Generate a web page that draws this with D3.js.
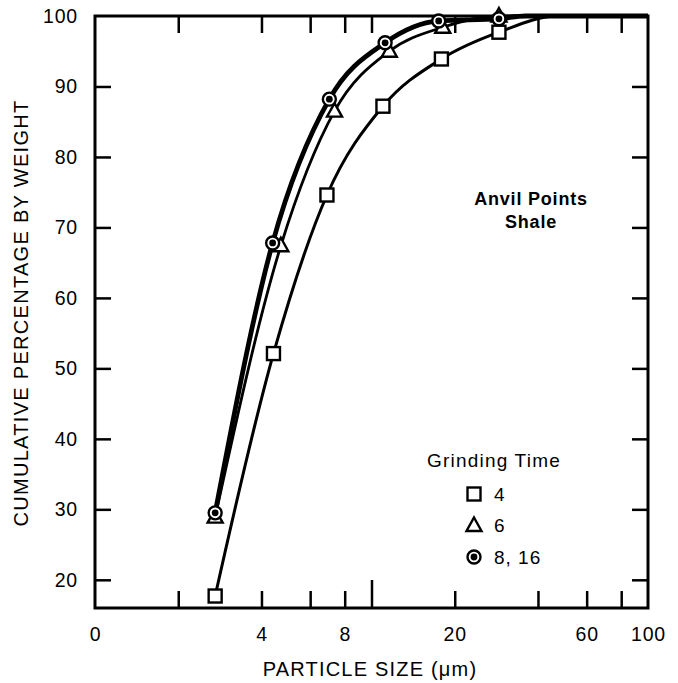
<!DOCTYPE html>
<html>
<head>
<meta charset="utf-8">
<script src="https://cdn.jsdelivr.net/npm/d3@7"></script>
<style>
  html, body { margin: 0; padding: 0; background: #fff; }
  svg { display: block; font-family: 'Liberation Sans', Arial, sans-serif; }
  .tick text { font-size: 19.5px; letter-spacing: 0.8px; fill: #000; }
  .domain { display: none; }
</style>
</head>
<body>
<svg id="chart" width="678" height="683"></svg>
<script>
/*global d3*/
// grinding time 4 (squares)
let sqX = [2.72, 4.42, 6.9, 11.0, 17.9, 28.9];
let sqY = [17.7, 52.1, 74.6, 87.2, 93.9, 97.7];
// grinding time 6 (triangles)
let triX = [2.72, 4.7, 7.35, 11.6, 18.1, 28.9];
let triY = [28.9, 67.4, 86.5, 95.0, 98.4, 100];
// grinding time 8, 16 (dotted circles)
let cirX = [2.72, 4.39, 7.04, 11.2, 17.5, 28.9];
let cirY = [29.5, 67.8, 88.2, 96.2, 99.3, 99.6];

// where the drawn curves run into the 100% line
let sqTailX = [47, 100];
let sqTailY = [100, 100];
let fineTailX = [36, 100];
let fineTailY = [100, 100];

let xTicks = [2, 4, 6, 8, 10, 20, 40, 60, 80];
let xLabelValues = [1, 4, 8, 20, 60, 100];
let xLabels = ['0', '4', '8', '20', '60', '100'];
let yTicks = [20, 30, 40, 50, 60, 70, 80, 90];
let yLabelValues = [20, 30, 40, 50, 60, 70, 80, 90, 100];

let legendTitle = 'Grinding Time';
let legendNames = ['4', '6', '8, 16'];
let legendShapes = ['square', 'triangle', 'circle'];

let svg = d3.select('#chart');
let pLeft = 95, pRight = 648, pTop = 16, pBottom = 608;

let x = d3.scaleLog().domain([1, 100]).range([pLeft, pRight]);
let y = d3.scaleLinear().domain([16, 100]).range([pBottom, pTop]);

// ticks (inward on all four sides)
svg.append('g')
	.attr('transform', `translate(0,${pBottom})`)
	.call(d3.axisBottom(x).tickValues(xTicks).tickSize(-17).tickFormat(''))
	.selectAll('.tick line')
	.attr('y2', d => d === 10 ? -28 : -17);
svg.append('g')
	.attr('transform', `translate(0,${pTop})`)
	.call(d3.axisTop(x).tickValues(xTicks).tickSize(-17).tickFormat(''));
svg.append('g')
	.attr('transform', `translate(${pLeft},0)`)
	.call(d3.axisLeft(y).tickValues(yTicks).tickSize(-16).tickFormat(''));
svg.append('g')
	.attr('transform', `translate(${pRight},0)`)
	.call(d3.axisRight(y).tickValues(yTicks).tickSize(-16).tickFormat(''));
svg.selectAll('.tick line').attr('stroke', '#000').attr('stroke-width', 2.5);

// tick labels
svg.append('g')
	.attr('transform', `translate(0,${pBottom})`)
	.call(d3.axisBottom(x).tickValues(xLabelValues).tickSize(0).tickPadding(19)
		.tickFormat((d, i) => xLabels[i]));
svg.append('g')
	.attr('transform', `translate(${pLeft},0)`)
	.call(d3.axisLeft(y).tickValues(yLabelValues).tickSize(0).tickPadding(17));
svg.selectAll('g[font-family]').attr('font-family', null).attr('font-size', null);

// frame
svg.append('rect')
	.attr('x', pLeft).attr('y', pTop)
	.attr('width', pRight - pLeft).attr('height', pBottom - pTop)
	.attr('fill', 'none').attr('stroke', '#000').attr('stroke-width', 3);

// axis titles
svg.append('text')
	.attr('x', 370).attr('y', 676)
	.attr('text-anchor', 'middle')
	.style('font-size', '20px').style('letter-spacing', '1.2px')
	.text('PARTICLE SIZE (μm)');
svg.append('text')
	.attr('transform', 'translate(28,313) rotate(-90)')
	.attr('text-anchor', 'middle')
	.style('font-size', '20px').style('letter-spacing', '1.3px')
	.text('CUMULATIVE PERCENTAGE BY WEIGHT');

// curves
let line = d3.line()
	.x(d => x(d[0]))
	.y(d => y(d[1]))
	.curve(d3.curveMonotoneX);

let zip = (xs, ys) => xs.map((v, i) => [v, ys[i]]);
let curves = [
	{ pts: zip(sqX, sqY).concat(zip(sqTailX, sqTailY)), w: 3 },
	{ pts: zip(triX, triY).concat(zip(fineTailX, fineTailY)), w: 2.8 },
	{ pts: zip(cirX, cirY).concat(zip(fineTailX, fineTailY)), w: 4.8 }
];
svg.append('g').selectAll('path')
	.data(curves)
	.enter().append('path')
	.attr('d', d => line(d.pts))
	.attr('fill', 'none')
	.attr('stroke', '#000')
	.attr('stroke-width', d => d.w);

function marker(g, shape) {
	if (shape === 'square') {
		g.append('rect')
			.attr('x', -6.5).attr('y', -6.5).attr('width', 13).attr('height', 13)
			.attr('fill', '#fff').attr('stroke', '#000').attr('stroke-width', 2.4);
	} else if (shape === 'triangle') {
		g.append('path')
			.attr('d', 'M0,-8L7.5,5.5L-7.5,5.5Z')
			.attr('fill', '#fff').attr('stroke', '#000').attr('stroke-width', 2.4);
	} else {
		g.append('circle').attr('r', 6.5)
			.attr('fill', '#fff').attr('stroke', '#000').attr('stroke-width', 2.4);
		g.append('circle').attr('r', 3.4).attr('fill', '#000');
	}
}

let series = [
	{ shape: 'square', pts: zip(sqX, sqY) },
	{ shape: 'triangle', pts: zip(triX, triY) },
	{ shape: 'circle', pts: zip(cirX, cirY) }
];
series.forEach(s => {
	svg.append('g').selectAll('g')
		.data(s.pts)
		.enter().append('g')
		.attr('transform', d => `translate(${x(d[0])},${y(d[1])})`)
		.each(function () { marker(d3.select(this), s.shape); });
});

// annotation
let note = svg.append('text')
	.attr('text-anchor', 'middle')
	.style('font-size', '18px').style('font-weight', 'bold').style('letter-spacing', '0.8px');
note.append('tspan').attr('x', 531).attr('y', 205).text('Anvil Points');
note.append('tspan').attr('x', 531).attr('y', 228).text('Shale');

// legend
svg.append('text')
	.attr('x', 494).attr('y', 467)
	.attr('text-anchor', 'middle')
	.style('font-size', '19px').style('letter-spacing', '1.2px')
	.text(legendTitle);
let legend = svg.append('g').selectAll('g')
	.data(legendNames)
	.enter().append('g')
	.attr('transform', (d, i) => `translate(474,${494 + i * 31.5})`);
legend.each(function (d, i) { marker(d3.select(this), legendShapes[i]); });
legend.append('text')
	.attr('x', 20).attr('y', 6.5)
	.style('font-size', '19px').style('letter-spacing', '1px')
	.text(d => d);
</script>
</body>
</html>
